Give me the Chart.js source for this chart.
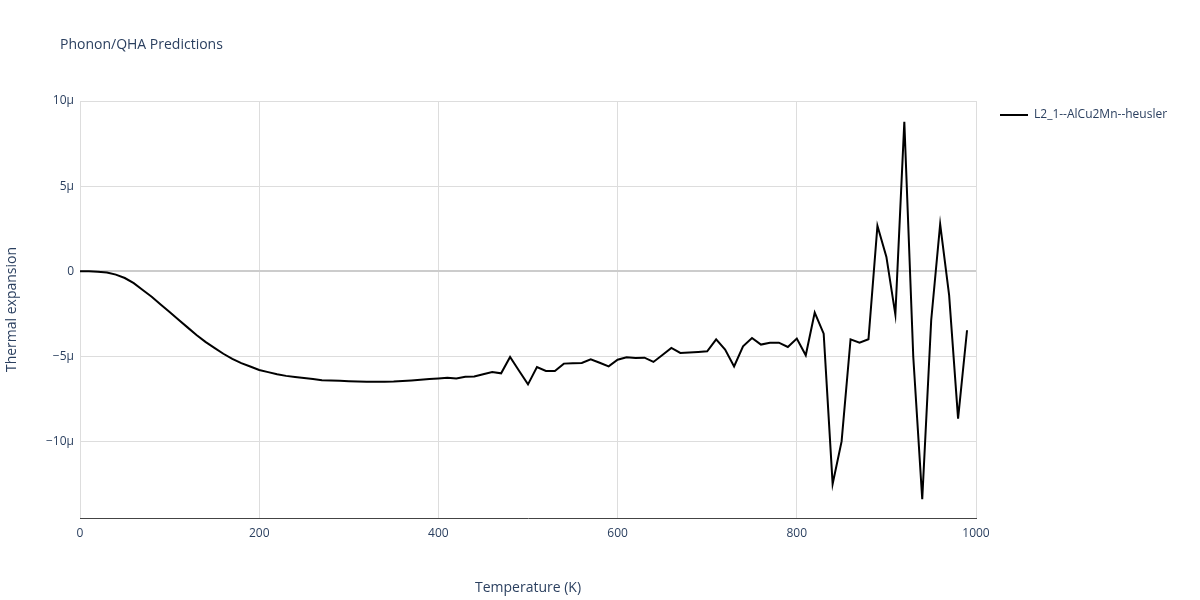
<!DOCTYPE html><html><head><script src="https://cdn.jsdelivr.net/npm/chart.js@4"></script>
<style>body{margin:0;background:#fff}#w{width:1200px;height:600px}</style></head><body><div id="w"><canvas id="c"></canvas></div><script>
const temps=[0,10,20,30,40,50,60,70,80,90,100,110,120,130,140,150,160,170,180,190,200,210,220,230,240,250,260,270,280,290,300,310,320,330,340,350,360,370,380,390,400,410,420,430,440,450,460,470,480,490,500,510,520,530,540,550,560,570,580,590,600,610,620,630,640,650,660,670,680,690,700,710,720,730,740,750,760,770,780,790,800,810,820,830,840,850,860,870,880,890,900,910,920,930,940,950,960,970,980,990];
const expansion=[0,-0.01,-0.03,-0.08,-0.2,-0.4,-0.7,-1.1,-1.5,-1.95,-2.4,-2.85,-3.3,-3.75,-4.15,-4.5,-4.85,-5.15,-5.4,-5.6,-5.8,-5.93,-6.05,-6.15,-6.22,-6.28,-6.34,-6.4,-6.42,-6.44,-6.46,-6.48,-6.5,-6.5,-6.49,-6.48,-6.45,-6.42,-6.38,-6.34,-6.3,-6.26,-6.31,-6.2,-6.18,-6.05,-5.92,-6.0,-5.04,-5.85,-6.65,-5.63,-5.86,-5.86,-5.43,-5.41,-5.39,-5.18,-5.38,-5.59,-5.2,-5.06,-5.1,-5.08,-5.33,-4.92,-4.51,-4.8,-4.77,-4.74,-4.71,-4.0,-4.6,-5.59,-4.41,-3.92,-4.31,-4.2,-4.2,-4.45,-3.96,-4.94,-2.43,-3.67,-12.5,-10.0,-4.0,-4.2,-4.0,2.67,0.84,-2.55,8.78,-5.04,-13.4,-2.88,2.76,-1.41,-8.66,-3.47];
const xTicks=[0,200,400,600,800,1000];
const yTicks=[-10,-5,0,5,10];
const seriesName='L2_1--AlCu2Mn--heusler';
const titleText='Phonon/QHA Predictions';
const pts=temps.map((t,i)=>({x:t,y:expansion[i]*1e-6}));
const fc='#2a3f5f';
Chart.defaults.font.family='"Open Sans", sans-serif';
Chart.defaults.color=fc;
const deco={id:'deco',afterDraw(ch){const c=ch.ctx;c.save();c.fillStyle=fc;c.textBaseline='middle';
c.font='14px "Open Sans", sans-serif';c.fillText(titleText,60,45);
c.font='12px "Open Sans", sans-serif';c.fillText(seriesName,1034,115);
c.strokeStyle='#000';c.lineWidth=2;c.beginPath();c.moveTo(1000,115);c.lineTo(1028,115);c.stroke();c.restore();}};
new Chart(document.getElementById('c'),{type:'line',data:{datasets:[{label:seriesName,data:pts,borderColor:'#000',borderWidth:2,pointRadius:0,tension:0}]},
plugins:[deco],
options:{responsive:true,maintainAspectRatio:false,animation:false,
layout:{padding:{left:0,right:224,top:101,bottom:0}},
plugins:{legend:{display:false},tooltip:{enabled:false}},
scales:{x:{type:'linear',min:0,max:1000,afterFit:s=>{s.height=82},afterBuildTicks:a=>{a.ticks=xTicks.map(v=>({value:v}))},title:{display:true,text:'Temperature (K)',font:{size:14},color:fc,padding:{top:10}},grid:{color:'#ddd',drawTicks:false},border:{color:'#444'},ticks:{font:{size:12},color:fc,padding:8,callback:v=>String(v)}},
y:{min:-14.5e-6,max:10e-6,afterFit:s=>{s.width=80},afterBuildTicks:a=>{a.ticks=yTicks.map(v=>({value:v*1e-6}))},title:{display:true,text:'Thermal expansion',font:{size:14},color:fc,padding:{bottom:20}},
grid:{color:c=>c.tick&&c.tick.value===0?'#ccc':'#ddd',lineWidth:c=>c.tick&&c.tick.value===0?2:1,drawTicks:false},border:{display:false},
ticks:{font:{size:12},color:fc,padding:6,callback:v=>{const n=Math.round(v*1e6);return n===0?'0':(n<0?'−':'')+Math.abs(n)+'μ'}}}}}});
</script></body></html>
